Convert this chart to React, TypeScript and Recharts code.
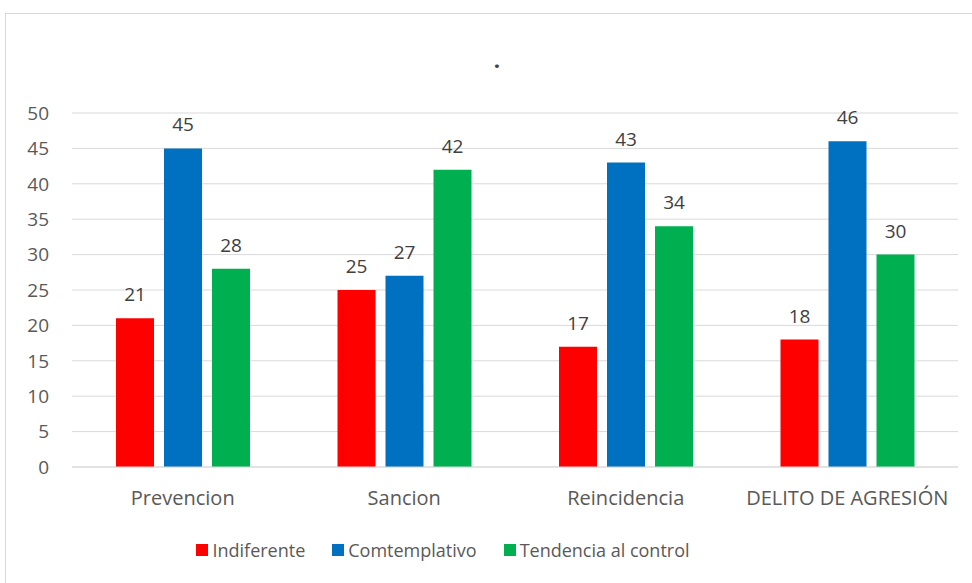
import React from 'react';
import { BarChart, Bar, XAxis, YAxis, CartesianGrid, Legend, LabelList } from 'recharts';

const categories = ['Prevencion', 'Sancion', 'Reincidencia', 'DELITO DE AGRESIÓN'];
const indiferente = [21, 25, 17, 18];
const comtemplativo = [45, 27, 43, 46];
const tendencia = [28, 42, 34, 30];
const yTicks = [0, 5, 10, 15, 20, 25, 30, 35, 40, 45, 50];

const seriesInfo = [
  { key: 'indiferente', name: 'Indiferente', color: '#FF0000' },
  { key: 'comtemplativo', name: 'Comtemplativo', color: '#0070C0' },
  { key: 'tendencia', name: 'Tendencia al control', color: '#00B050' },
];

const data = categories.map((name, i) => ({
  name,
  indiferente: indiferente[i],
  comtemplativo: comtemplativo[i],
  tendencia: tendencia[i],
}));

const FONT = '"Open Sans", Lato, sans-serif';
const AXIS_TEXT = '#595959';

const renderLegend = () => (
  <div style={{ display: 'flex', justifyContent: 'center', alignItems: 'center', fontFamily: FONT, fontSize: 18, color: AXIS_TEXT }}>
    {seriesInfo.map((s, i) => (
      <div key={s.key} style={{ display: 'flex', alignItems: 'center', marginLeft: i === 0 ? 0 : 27 }}>
        <span style={{ width: 12, height: 12, background: s.color, display: 'inline-block', marginRight: 4 }} />
        <span>{s.name}</span>
      </div>
    ))}
  </div>
);

const App: React.FC = () => {
  return (
    <div style={{ position: 'absolute', left: 0, top: 0, width: 972, height: 583, overflow: 'hidden', background: '#fff' }}>
      <div style={{ position: 'absolute', left: 5, top: 13, width: 1000, height: 620, border: '1px solid #d9d9d9' }} />
      <div style={{ position: 'absolute', left: 0, top: 44, width: 994, textAlign: 'center', fontFamily: FONT, fontSize: 22, fontWeight: 'bold', color: '#404040' }}>.</div>
      <BarChart
        width={972}
        height={583}
        data={data}
        margin={{ top: 113, right: 14, left: 12, bottom: 0 }}
        barSize={38}
        barGap={10}
        style={{ position: 'absolute', left: 0, top: 0 }}
      >
        <CartesianGrid vertical={false} stroke="#d9d9d9" strokeWidth={1} />
        <XAxis
          dataKey="name"
          height={116}
          axisLine={{ stroke: '#d9d9d9' }}
          tickLine={false}
          tickSize={0}
          tickMargin={24}
          interval={0}
          tick={{ fill: AXIS_TEXT, fontSize: 20, fontFamily: FONT }}
        />
        <YAxis
          width={60}
          domain={[0, 50]}
          ticks={yTicks}
          axisLine={false}
          tickLine={false}
          tickSize={0}
          tickMargin={23}
          tick={{ fill: AXIS_TEXT, fontSize: 19, fontFamily: FONT }}
        />
        <Legend
          verticalAlign="middle"
          align="center"
          layout="horizontal"
          content={renderLegend}
          wrapperStyle={{ top: 538, left: 0, width: 886 }}
        />
        {seriesInfo.map((s) => (
          <Bar key={s.key} dataKey={s.key} name={s.name} fill={s.color} isAnimationActive={false}>
            <LabelList dataKey={s.key} position="top" offset={17} fill="#404040" fontSize={19} fontFamily={FONT} />
          </Bar>
        ))}
      </BarChart>
    </div>
  );
};

export default App;
